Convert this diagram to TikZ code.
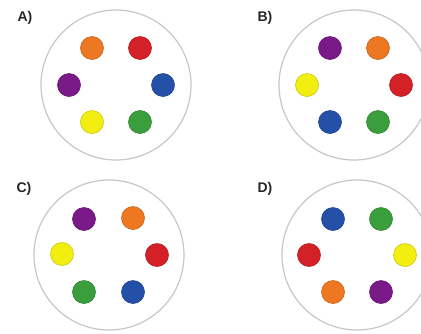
\documentclass[tikz,border=0pt]{standalone}
\usepackage{fontspec}
\setmainfont{Liberation Sans}
\definecolor{cOr}{HTML}{EE7722}
\definecolor{cRe}{HTML}{D42027}
\definecolor{cBl}{HTML}{2450A8}
\definecolor{cPu}{HTML}{7A1A88}
\definecolor{cYe}{HTML}{F2EE10}
\definecolor{cGr}{HTML}{3A9E3C}
\begin{document}
\begin{tikzpicture}[x=1pt,y=-1pt,
  ring/.style={circle,draw=black!22,line width=1.2pt,minimum size=150pt,inner sep=0pt},
  dot/.style={circle,minimum size=23pt,inner sep=0pt,fill=#1,draw=#1!85!black,line width=0.6pt},
  lab/.style={font=\fontsize{14}{14}\selectfont\bfseries,text=black!85,anchor=center}]
\useasboundingbox[fill=white] (0,0) rectangle (421,333);
% A
\node[lab] (la) at (25,18) {A)};
\node[ring] (ra) at (116,85) {};
\node[dot=cOr] (a1) at (92,48) {};
\node[dot=cRe] (a2) at (140,48) {};
\node[dot=cPu] (a3) at (69,85) {};
\node[dot=cBl] (a4) at (163,85) {};
\node[dot=cYe] (a5) at (92,122) {};
\node[dot=cGr] (a6) at (140,122) {};
% B
\node[lab] (lb) at (265,18) {B)};
\node[ring] (rb) at (354,85) {};
\node[dot=cPu] (b1) at (330,48) {};
\node[dot=cOr] (b2) at (378,48) {};
\node[dot=cYe] (b3) at (307,85) {};
\node[dot=cRe] (b4) at (401,85) {};
\node[dot=cBl] (b5) at (330,122) {};
\node[dot=cGr] (b6) at (378,122) {};
% C
\node[lab] (lc) at (24,189) {C)};
\node[ring] (rc) at (109,255) {};
\node[dot=cPu] (c1) at (84,219) {};
\node[dot=cOr] (c2) at (133,218) {};
\node[dot=cYe] (c3) at (62,254) {};
\node[dot=cRe] (c4) at (157,255) {};
\node[dot=cGr] (c5) at (84,292) {};
\node[dot=cBl] (c6) at (133,292) {};
% D
\node[lab] (ld) at (265,189) {D)};
\node[ring] (rd) at (357,255) {};
\node[dot=cBl] (d1) at (333,219) {};
\node[dot=cGr] (d2) at (381,219) {};
\node[dot=cRe] (d3) at (309,255) {};
\node[dot=cYe] (d4) at (405,255) {};
\node[dot=cOr] (d5) at (333,292) {};
\node[dot=cPu] (d6) at (381,292) {};
\end{tikzpicture}
\end{document}
